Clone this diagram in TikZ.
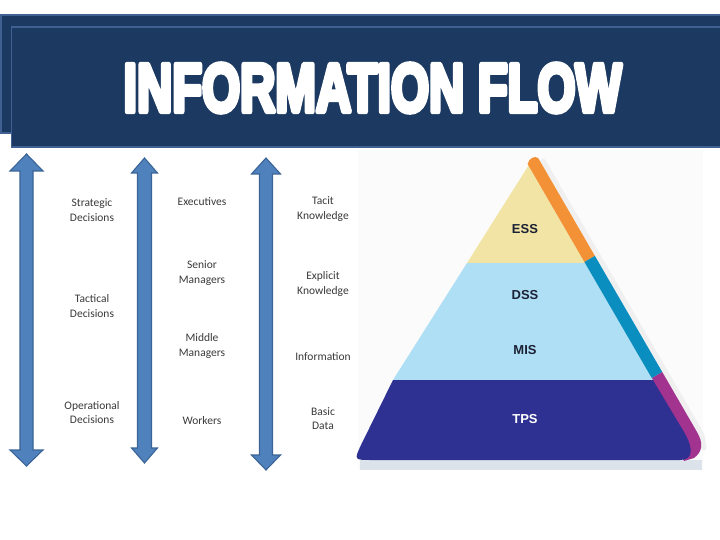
\documentclass[tikz,border=0pt]{standalone}
\usepackage{fontspec}
\setmainfont{Carlito}
\newfontfamily\titlefont[FakeBold=8]{Liberation Sans Bold}
\newfontfamily\pyrfont{Liberation Sans}
\definecolor{hdrfill}{HTML}{1B3961}
\definecolor{hdrline}{HTML}{3F6090}
\definecolor{arrfill}{HTML}{4F81BD}
\definecolor{arrline}{HTML}{3A6496}
\definecolor{txtgray}{HTML}{3A3A3A}
\definecolor{essyel}{HTML}{F2E4A4}
\definecolor{dssblue}{HTML}{AFDFF4}
\definecolor{tpsnavy}{HTML}{2E3192}
\definecolor{stripor}{HTML}{F39137}
\definecolor{stripteal}{HTML}{0A8DBF}
\definecolor{strippur}{HTML}{A2338F}
\definecolor{pyrtxt}{HTML}{1C2235}
\definecolor{basegray}{HTML}{DCE3EA}
\newcommand{\vdarrow}[7]{% x, toptip, topshoulder, botshoulder, bottip, headhalf, shafthalf
  \filldraw[blockarrow] (#1,#2) -- (#1+#6,#3) -- (#1+#7,#3) -- (#1+#7,#4) -- (#1+#6,#4)
    -- (#1,#5) -- (#1-#6,#4) -- (#1-#7,#4) -- (#1-#7,#3) -- (#1-#6,#3) -- cycle;}
\begin{document}
\begin{tikzpicture}[x=1pt,y=-1pt,
  blockarrow/.style={fill=arrfill,draw=arrline,line width=1.1pt,line join=miter},
  hdrbox/.style={fill=hdrfill,draw=hdrline,line width=1.8pt},
  lbl/.style={text=txtgray,font=\fontsize{11.5}{14.5}\selectfont,align=center,inner sep=0pt},
  pyrlbl/.style={font=\pyrfont\bfseries\fontsize{13}{15}\selectfont,inner sep=0pt}]
\useasboundingbox (0,0) rectangle (720,540);
\fill[white] (0,0) rectangle (720,540);
% header
\draw[hdrbox] (1,15) rectangle (722,133);
\draw[hdrbox] (11.5,27) rectangle (722,147);
\node[text=white,inner sep=0pt] (title) at (372.5,88) {\special{pdf:literal direct 1 j 1 J}\resizebox{498pt}{47.5pt}{\titlefont INFORMATION FLOW}};
% arrows
\vdarrow{26.5}{154}{171}{450}{466}{16.5}{6.5}
\vdarrow{144.5}{158}{173}{448}{463}{13}{7}
\vdarrow{266}{158}{174}{455}{470}{14.5}{6.5}
% labels
\node[lbl] (strat) at (92,210) {Strategic\\Decisions};
\node[lbl] (tact) at (92,306) {Tactical\\Decisions};
\node[lbl] (oper) at (92,412.5) {Operational\\Decisions};
\node[lbl] (exec) at (202,202) {Executives};
\node[lbl] (senior) at (202,273) {Senior\\Managers};
\node[lbl] (middle) at (202,346) {Middle\\Managers};
\node[lbl] (workers) at (202,421) {Workers};
\node[lbl] (tacit) at (323,209) {Tacit\\Knowledge};
\node[lbl] (explicit) at (323,284) {Explicit\\Knowledge};
\node[lbl] (info) at (323,357) {Information};
\node[lbl] (basic) at (323,418.5) {Basic\\Data};
% pyramid image background
\fill[black!1.5] (358,150) rectangle (703,470);
\fill[basegray] (360,460) rectangle (702,470);
% soft shadow along right edge
\draw[black!6,line width=5pt,line cap=round] (543,161) -- (702,435) -- (704,448);
% purple strip (under TPS)
\fill[strippur] (651.7,378) -- (662.2,371.9) -- (697,432) .. controls (704,444) and (702,452) .. (694,458) -- (684,461) -- (645,381) -- cycle;
% layers
\fill[essyel] (528.5,165.6) -- (585,263) -- (467,263) -- cycle;
\fill[dssblue] (467,263) -- (585,263) -- (652.9,380) -- (393,380) -- cycle;
\fill[tpsnavy] (393,380) -- (652.9,380) -- (684,432) .. controls (694,449) and (693,460) .. (680,460) -- (372,460) .. controls (354,460) .. (361,445) -- cycle;
% orange and teal strips
\fill[stripor] (527.6,164) .. controls (529,158.5) and (534,155.5) .. (538.1,157.9) -- (594.9,255.9) -- (584.4,262) -- cycle;
\fill[stripteal] (584.4,262) -- (594.9,255.9) -- (662.2,371.9) -- (651.7,378) -- cycle;
% pyramid labels
\node[pyrlbl,text=pyrtxt] (ess) at (525,229) {ESS};
\node[pyrlbl,text=pyrtxt] (dss) at (525,295) {DSS};
\node[pyrlbl,text=pyrtxt] (mis) at (525,350) {MIS};
\node[pyrlbl,text=white] (tps) at (525,419) {TPS};
\end{tikzpicture}
\end{document}
